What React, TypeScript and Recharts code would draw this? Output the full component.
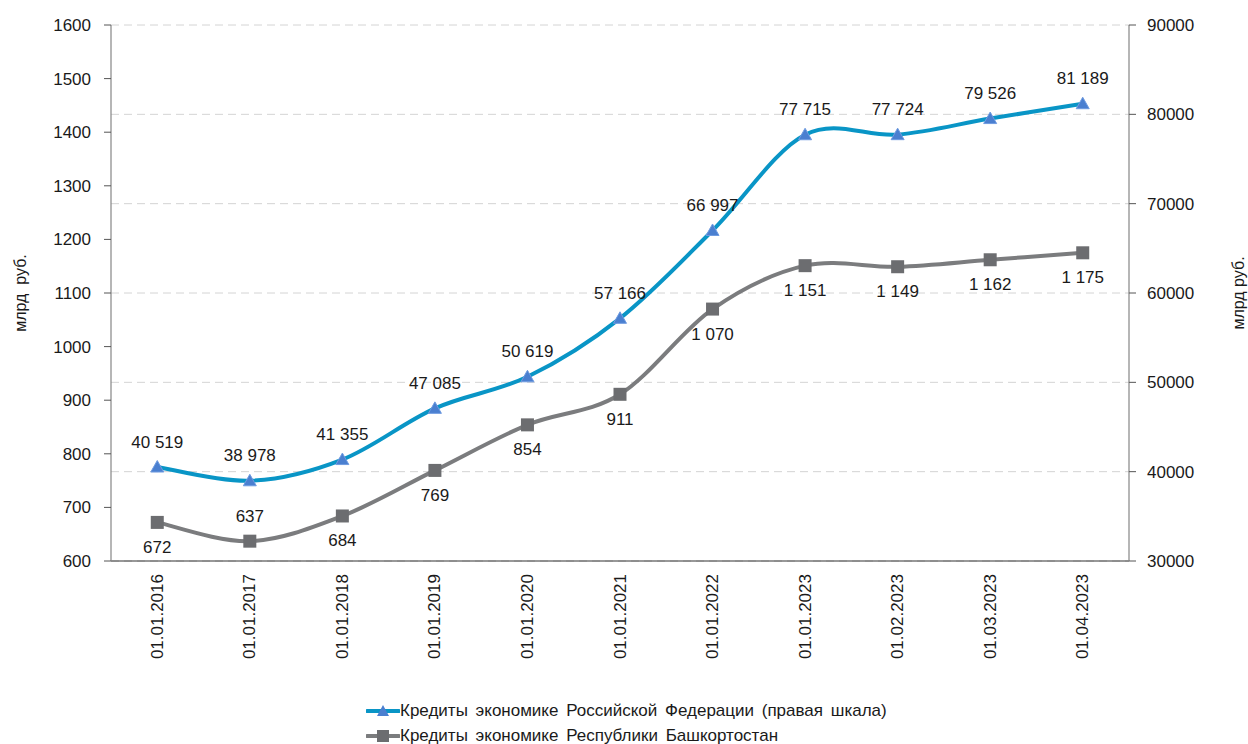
import React from "react";
import {
  LineChart,
  Line,
  XAxis,
  YAxis,
  CartesianGrid,
  LabelList,
} from "recharts";

const dates = [
  "01.01.2016",
  "01.01.2017",
  "01.01.2018",
  "01.01.2019",
  "01.01.2020",
  "01.01.2021",
  "01.01.2022",
  "01.01.2023",
  "01.02.2023",
  "01.03.2023",
  "01.04.2023",
];
const rfCredits = [40519, 38978, 41355, 47085, 50619, 57166, 66997, 77715, 77724, 79526, 81189];
const rbCredits = [672, 637, 684, 769, 854, 911, 1070, 1151, 1149, 1162, 1175];
const rbLabelAbove = [false, true, false, false, false, false, false, false, false, false, false];
const leftTicks = [600, 700, 800, 900, 1000, 1100, 1200, 1300, 1400, 1500, 1600];
const rightTicks = [30000, 40000, 50000, 60000, 70000, 80000, 90000];

const rfName = "Кредиты экономике Российской Федерации (правая шкала)";
const rbName = "Кредиты экономике Республики Башкортостан";

const data = dates.map((d, i) => ({ date: d, idx: i, rf: rfCredits[i], rb: rbCredits[i] }));
const boundaryTicks = dates.map((_, i) => i).concat([dates.length]);

const FONT = "'Liberation Sans', Arial, sans-serif";
const TEXT = "#1a1a1a";
const BLUE = "#0995c6";
const BLUE_MARK = "#4a7fd0";
const GRAY = "#7b7c7e";
const GRAY_MARK = "#6c6d70";

const fmt = (v: number) => String(v).replace(/\B(?=(\d{3})+(?!\d))/g, " ");

// excel-like smoothed line (catmull-rom as bezier)
function excelCurve(context: any) {
  let pts: number[][] = [];
  return {
    areaStart() {},
    areaEnd() {},
    lineStart() {
      pts = [];
    },
    point(x: number, y: number) {
      pts.push([+x, +y]);
    },
    lineEnd() {
      const n = pts.length;
      if (!n) return;
      context.moveTo(pts[0][0], pts[0][1]);
      for (let i = 0; i < n - 1; i++) {
        const p0 = pts[i - 1] || pts[i];
        const p1 = pts[i];
        const p2 = pts[i + 1];
        const p3 = pts[i + 2] || pts[i + 1];
        context.bezierCurveTo(
          p1[0] + (p2[0] - p0[0]) / 6,
          p1[1] + (p2[1] - p0[1]) / 6,
          p2[0] - (p3[0] - p1[0]) / 6,
          p2[1] - (p3[1] - p1[1]) / 6,
          p2[0],
          p2[1]
        );
      }
    },
  };
}

const Triangle = (props: any) => {
  const { cx, cy } = props;
  if (cx == null || cy == null) return null;
  return (
    <path
      d={`M${cx},${cy - 6.5} L${cx + 6.5},${cy + 5} L${cx - 6.5},${cy + 5} Z`}
      fill={BLUE_MARK}
      stroke="#6f9be0"
      strokeWidth={1}
    />
  );
};

const Square = (props: any) => {
  const { cx, cy } = props;
  if (cx == null || cy == null) return null;
  return <rect x={cx - 6.5} y={cy - 6.5} width={13} height={13} fill={GRAY_MARK} />;
};

const DateTick = (props: any) => {
  const { x, payload } = props;
  const y = 574;
  return (
    <text
      x={x}
      y={y}
      transform={`rotate(-90 ${x} ${y})`}
      textAnchor="end"
      dominantBaseline="central"
      fontSize={17}
      fontFamily={FONT}
      fill={TEXT}
    >
      {payload.value}
    </text>
  );
};

const rfLabel = (props: any) => {
  const { x, y, value } = props;
  return (
    <text x={x} y={y - 25} textAnchor="middle" dominantBaseline="central" fontSize={17} fontFamily={FONT} fill={TEXT}>
      {fmt(value)}
    </text>
  );
};

const rbLabel = (props: any) => {
  const { x, y, value, index } = props;
  const dy = rbLabelAbove[index] ? -25 : 25;
  return (
    <text x={x} y={y + dy} textAnchor="middle" dominantBaseline="central" fontSize={17} fontFamily={FONT} fill={TEXT}>
      {fmt(value)}
    </text>
  );
};

const axisTitle = (side: "left" | "right") => (p: any) => {
  const vb = p.viewBox || {};
  const x = side === "left" ? vb.x + 20 : vb.x + vb.width - 10;
  const y = vb.y + vb.height / 2;
  return (
    <text
      x={x}
      y={y}
      transform={`rotate(-90 ${x} ${y})`}
      textAnchor="middle"
      dominantBaseline="central"
      fontSize={16}
      fontFamily={FONT}
      fill={TEXT}
      style={{ whiteSpace: "pre" }}
    >
      {side === "left" ? "млрд  руб." : "млрд руб."}
    </text>
  );
};

const LegendRow = ({ color, marker, label }: { color: string; marker: "tri" | "sq"; label: string }) => (
  <div style={{ display: "flex", alignItems: "center", height: 25 }}>
    <svg width={34} height={16} style={{ marginRight: 0 }}>
      <line x1={1} y1={8} x2={33} y2={8} stroke={color} strokeWidth={4} strokeLinecap="round" />
      {marker === "tri" ? (
        <path d="M17,2 L23,13 L11,13 Z" fill={BLUE_MARK} />
      ) : (
        <rect x={11} y={2} width={12} height={12} fill={GRAY_MARK} />
      )}
    </svg>
    <span>{label}</span>
  </div>
);

export default function App() {
  return (
    <div
      style={{
        position: "absolute",
        left: 0,
        top: 0,
        width: 1248,
        height: 744,
        background: "#fff",
        overflow: "hidden",
        fontFamily: FONT,
      }}
    >
      <LineChart width={1248} height={744} data={data} margin={{ top: 25, right: 0, bottom: 0, left: 0 }}>
        <CartesianGrid
          yAxisId="right"
          vertical={false}
          horizontalValues={rightTicks}
          stroke="#d4d4d4"
          strokeDasharray="8 5"
        />
        <XAxis
          xAxisId="bounds"
          dataKey="idx"
          type="number"
          domain={[0, dates.length]}
          ticks={boundaryTicks}
          height={1}
          tick={false}
          tickSize={6}
          tickLine={{ stroke: "#333" }}
          axisLine={{ stroke: "#333", strokeWidth: 1.2 }}
          allowDataOverflow
        />
        <XAxis
          xAxisId="main"
          dataKey="date"
          scale="band"
          height={182}
          interval={0}
          tickLine={false}
          axisLine={false}
          tickSize={0}
          tickMargin={13}
          tick={<DateTick />}
        />
        <YAxis
          yAxisId="left"
          orientation="left"
          width={111}
          domain={[600, 1600]}
          ticks={leftTicks}
          interval={0}
          tickSize={7}
          tickMargin={13}
          tick={{ fontSize: 17, fontFamily: FONT, fill: TEXT }}
          axisLine={{ stroke: "#858585", strokeWidth: 1.2 }}
          tickLine={{ stroke: "#555" }}
          label={{ content: axisTitle("left") }}
        />
        <YAxis
          yAxisId="right"
          orientation="right"
          width={119}
          domain={[30000, 90000]}
          ticks={rightTicks}
          interval={0}
          tickSize={7}
          tickMargin={11}
          tick={{ fontSize: 17, fontFamily: FONT, fill: TEXT }}
          axisLine={{ stroke: "#858585", strokeWidth: 1.2 }}
          tickLine={{ stroke: "#555" }}
          label={{ content: axisTitle("right") }}
        />
        <Line
          xAxisId="main"
          yAxisId="left"
          dataKey="rb"
          name={rbName}
          type={excelCurve as any}
          stroke={GRAY}
          strokeWidth={4}
          dot={<Square />}
          activeDot={false}
          isAnimationActive={false}
        >
          <LabelList dataKey="rb" content={rbLabel} />
        </Line>
        <Line
          xAxisId="main"
          yAxisId="right"
          dataKey="rf"
          name={rfName}
          type={excelCurve as any}
          stroke={BLUE}
          strokeWidth={4}
          dot={<Triangle />}
          activeDot={false}
          isAnimationActive={false}
        >
          <LabelList dataKey="rf" content={rfLabel} />
        </Line>
      </LineChart>
      <div
        style={{
          position: "absolute",
          left: 366,
          top: 698,
          fontSize: 17,
          color: TEXT,
          lineHeight: "25px",
          wordSpacing: 3,
        }}
      >
        <LegendRow color={BLUE} marker="tri" label={rfName} />
        <LegendRow color={GRAY} marker="sq" label={rbName} />
      </div>
    </div>
  );
}
